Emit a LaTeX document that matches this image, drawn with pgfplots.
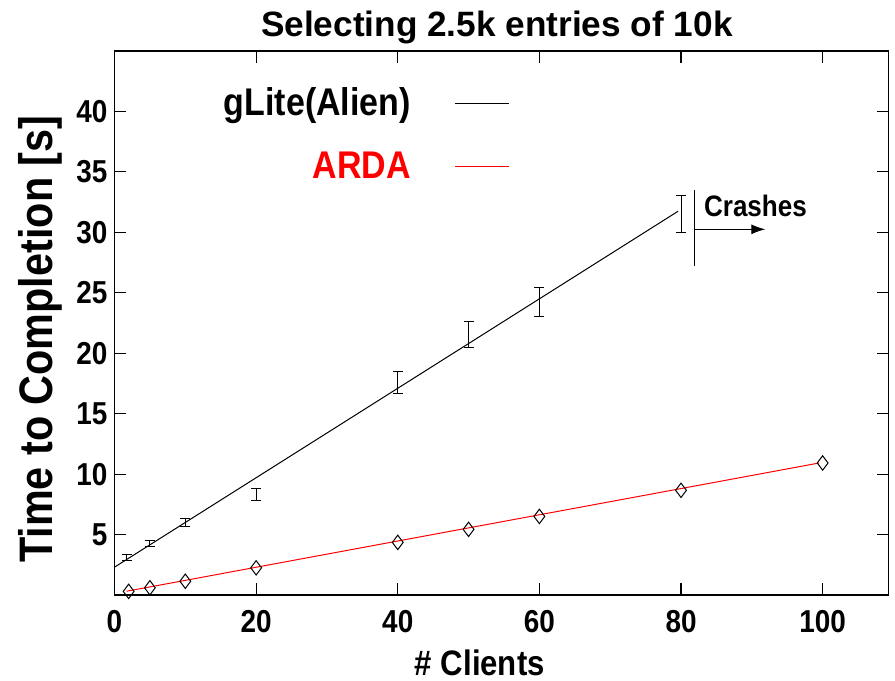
\documentclass[border=0pt]{standalone}
\usepackage{pgfplots}
\pgfplotsset{compat=1.18}
\usepackage{fontspec}
\setmainfont{Liberation Sans}[FakeStretch=0.88]
\newfontfamily\titlefont{Liberation Sans}
\usetikzlibrary{arrows.meta}
\begin{document}
\begin{tikzpicture}
\useasboundingbox (-57.25pt,-42.75pt) rectangle (390.25pt,297.5pt);
\begin{axis}[
  scale only axis,
  width=387pt, height=272pt,
  xmin=0, xmax=109.3, ymin=0, ymax=45,
  xtick={0,20,40,60,80,100},
  ytick={5,10,15,20,25,30,35,40},
  tick align=inside, tick pos=both,
  major tick length=6pt,
  axis line style={line width=0.6pt},
  every tick/.style={black, line width=0.6pt},
  /pgf/number format/assume math mode=true,
  ticklabel style={font=\fontsize{15.85pt}{18pt}\selectfont\bfseries},
  xticklabel style={anchor=base, yshift=-18.75pt},
  title={\titlefont\fontsize{17.6pt}{20pt}\selectfont\bfseries Selecting 2.5k entries of 10k},
  title style={at={(0.494,1)}, anchor=base, yshift=1.5pt},
  xlabel={\fontsize{17.7pt}{20pt}\selectfont\bfseries \# Clients},
  xlabel style={at={(axis description cs:0.472,-0.148)}, anchor=base},
  ylabel={\fontsize{23.5pt}{26pt}\selectfont\bfseries Time to Completion [s]},
  ylabel style={at={(axis description cs:-0.0963,0.47)}, anchor=center},
  legend plot pos=right,
  legend cell align=right,
  legend image code/.code={\draw[#1, line width=0.5pt] (0pt,0pt) -- (27pt,0pt);},
  legend style={at={(axis description cs:0.519,0.948)}, anchor=north east, draw=none, fill=none,
    font=\fontsize{19.3pt}{22pt}\selectfont\bfseries, row sep=12.5pt, column sep=20pt},
]
\addplot[black, line width=0.5pt] coordinates {(0,2.3) (79.6,31.75)};
\addlegendentry{gLite(Alien)}
\addplot[red, line width=0.5pt] coordinates {(1.7,0.31) (99.5,10.92)};
\addlegendentry{\textcolor{red}{ARDA}}

\addplot[draw=none, mark=none, forget plot,
  error bars/.cd, y dir=both, y explicit,
  error bar style={draw=black, line width=0.5pt},
  error mark options={rotate=90, mark size=2.5pt, draw=black, line width=0.5pt}]
  table[x=x, y=y, y error=e] {
x y e
1.7 3.13 0.25
5 4.24 0.25
10 6.0 0.35
20 8.33 0.5
40 17.6 0.9
50 21.55 1.06
60 24.2 1.2
80 31.5 1.55
};

\addplot[only marks, mark=diamond, mark size=3.6pt, forget plot,
  mark options={black, line width=0.5pt, fill=none}]
  table[x=x, y=y] {
x y
2 0.3
5 0.6
10 1.14
20 2.25
40 4.35
50 5.43
60 6.5
80 8.66
100 10.92
};

\draw[black, line width=0.6pt] (axis cs:81.9,27.2) -- (axis cs:81.9,33.5);
\draw[black, line width=0.5pt, -{Latex[length=7pt,width=5pt]}] (axis cs:81.9,30.25) -- (axis cs:91.9,30.25);
\node[anchor=base west, inner sep=0pt, font=\fontsize{14.8pt}{17pt}\selectfont\bfseries] at (axis cs:83.2,31.3) {Crashes};
\end{axis}
\end{tikzpicture}
\end{document}
